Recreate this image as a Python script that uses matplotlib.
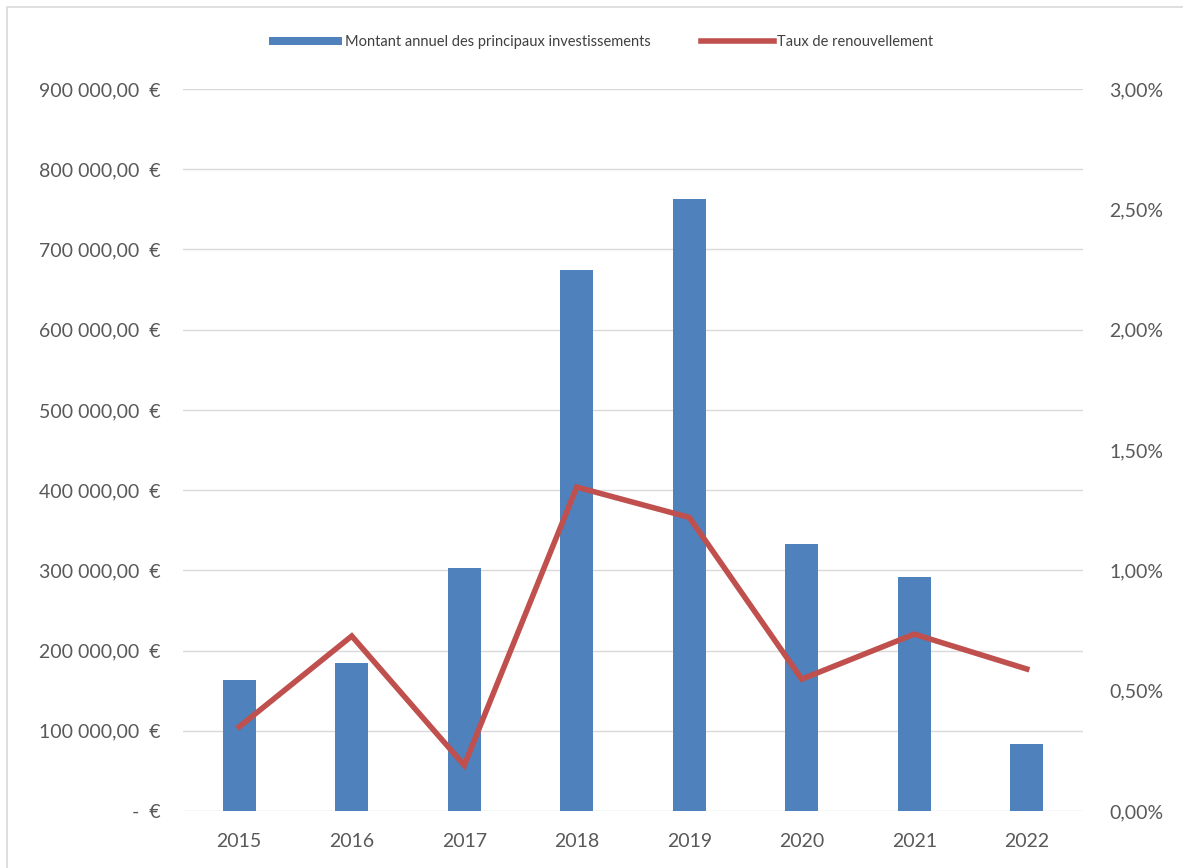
import matplotlib.pyplot as plt
from matplotlib.patches import Rectangle
from matplotlib.ticker import FuncFormatter, MultipleLocator

plt.rcParams['font.family'] = ['Lato', 'DejaVu Sans']

# Données annuelles
annees = ['2015', '2016', '2017', '2018', '2019', '2020', '2021', '2022']
montants = [163000, 184500, 303000, 674500, 763000, 333000, 292000, 83500]
taux = [0.35, 0.727, 0.19, 1.346, 1.22, 0.548, 0.735, 0.59]

bleu = '#4F81BD'
rouge = '#C0504D'
gris_texte = '#595959'


def fmt_euros(v, pos):
    if v == 0:
        return '-  €'
    s = f'{v:,.2f}'.replace(',', ' ').replace('.', ',')
    return s + '  €'


def fmt_pct(v, pos):
    return f'{v:.2f}%'.replace('.', ',')


fig = plt.figure(figsize=(11.83, 8.68), dpi=100)
# cadre gris clair autour du graphique
fig.patches.append(Rectangle((7 / 1183, -0.01), 1.1, 1.0 - 7 / 868 + 0.01,
                             transform=fig.transFigure, fill=False,
                             edgecolor='#D9D9D9', linewidth=1.2))

ax = fig.add_axes([183 / 1183, 1 - 811 / 868, 900 / 1183, 722 / 868])
x = range(len(annees))
barres = ax.bar(x, montants, width=0.29, color=bleu, zorder=2,
                label='Montant annuel des principaux investissements')

ax.set_ylim(0, 900000)
ax.set_xlim(-0.5, len(annees) - 0.5)
ax.yaxis.set_major_locator(MultipleLocator(100000))
ax.yaxis.set_major_formatter(FuncFormatter(fmt_euros))
ax.grid(axis='y', color='#D9D9D9', linewidth=1, zorder=0)
ax.set_xticks(list(x))
ax.set_xticklabels(annees)
ax.tick_params(axis='both', length=0, labelsize=14, colors=gris_texte)
ax.tick_params(axis='y', pad=16)
ax.tick_params(axis='x', pad=16)
for s in ax.spines.values():
    s.set_visible(False)

ax2 = ax.twinx()
ligne, = ax2.plot(x, taux, color=rouge, linewidth=4.0, zorder=3,
                  solid_joinstyle='miter', label='Taux de renouvellement')
ax2.set_ylim(0, 3.0)
ax2.yaxis.set_major_locator(MultipleLocator(0.5))
ax2.yaxis.set_major_formatter(FuncFormatter(fmt_pct))
ax2.tick_params(axis='y', length=0, labelsize=14, colors=gris_texte, pad=19)
for s in ax2.spines.values():
    s.set_visible(False)

fig.legend(handles=[barres, ligne], loc='center', bbox_to_anchor=(601 / 1183, 1 - 42 / 868),
           ncol=2, frameon=False, fontsize=10.5, labelcolor='#404040',
           handlelength=5.0, handleheight=0.5, columnspacing=3.5, handletextpad=0.2)

fig.savefig('out.png', dpi=100)
